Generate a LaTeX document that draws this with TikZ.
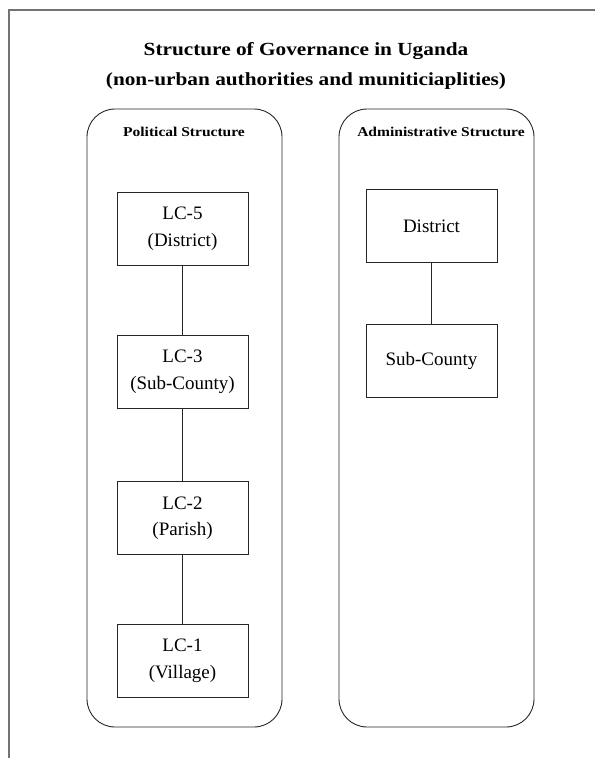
\documentclass[tikz,border=0pt]{standalone}
\usepackage{fontspec}
\setmainfont{Liberation Serif}
\newfontfamily\headfont[FakeStretch=1.15]{Liberation Serif}
\begin{document}
\begin{tikzpicture}[x=1pt,y=-1pt,
  frameline/.style={draw=black!55, line width=1.1pt},
  panel/.style={draw=black!85, line width=0.9pt, rounded corners=28pt},
  unitbox/.style={draw=black!85, line width=0.9pt, minimum width=131pt, minimum height=73pt,
    inner sep=0pt, align=center, font=\fontsize{19}{26.5}\selectfont},
  panellabel/.style={font=\headfont\bfseries\fontsize{13.5}{16}\selectfont},
  link/.style={draw=black!85, line width=0.9pt}]
\useasboundingbox (0,0) rectangle (595,758);
\fill[white] (0,0) rectangle (595,758);
% page frame, open at the right and bottom
\draw[frameline] (9,758) -- (9,10) -- (595,10);
% title
\node[font=\headfont\bfseries\fontsize{18.5}{29.5}\selectfont, align=center] (title) at (306,66)
  {Structure of Governance in Uganda\\(non-urban authorities and muniticiaplities)};
% the two columns
\draw[panel] (87,109) rectangle (282,727);
\draw[panel] (339,109) rectangle (534,727);
\node[panellabel] (pol) at (184,132) {Political Structure};
\node[panellabel] (adm) at (441,132) {Administrative Structure};
% political chain
\node[unitbox] (lc5) at (182.5,228.5) {LC-5\\(District)};
\node[unitbox] (lc3) at (182.5,372) {LC-3\\(Sub-County)};
\node[unitbox] (lc2) at (182.5,518) {LC-2\\(Parish)};
\node[unitbox] (lc1) at (182.5,661) {LC-1\\(Village)};
\draw[link] (lc5) -- (lc3);
\draw[link] (lc3) -- (lc2);
\draw[link] (lc2) -- (lc1);
% administrative chain
\node[unitbox] (dist) at (431.5,226) {District};
\node[unitbox] (sub) at (431.5,361) {Sub-County};
\draw[link] (dist) -- (sub);
\end{tikzpicture}
\end{document}
